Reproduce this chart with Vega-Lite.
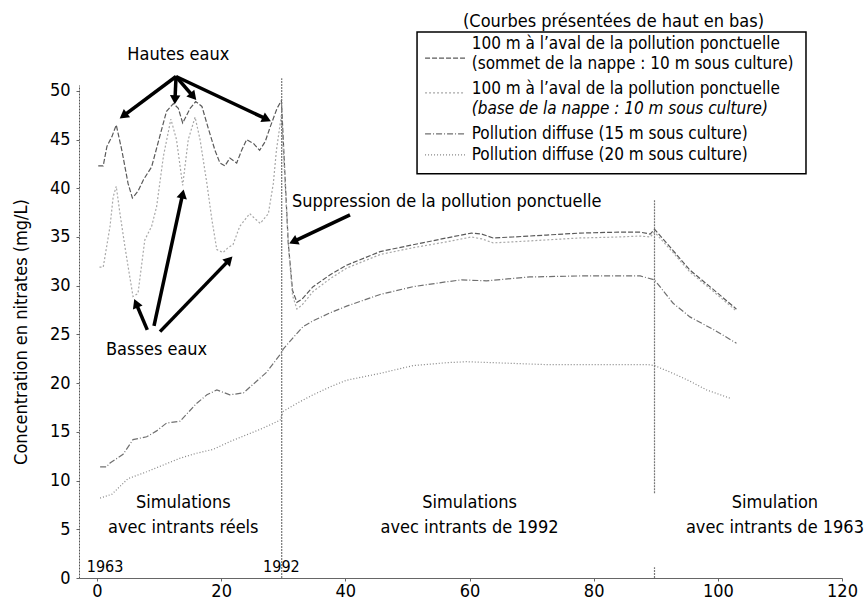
{
  "$schema": "https://vega.github.io/schema/vega-lite/v6.json",
  "width": 763,
  "height": 493,
  "autosize": {"type": "none"},
  "padding": {"left": 79, "top": 85, "right": 23, "bottom": 29},
  "background": "white",
  "config": {
    "view": {"stroke": null},
    "font": "DejaVu Sans Condensed",
    "text": {"font": "DejaVu Sans Condensed", "fontSize": 18, "color": "black"}
  },
  "datasets": {
    "series": [
      {"t":0.2,"c":42.3,"s":"sommet"},{"t":1.0,"c":42.3,"s":"sommet"},{"t":1.6,"c":44.3,"s":"sommet"},{"t":2.4,"c":45.3,"s":"sommet"},{"t":3.1,"c":46.5,"s":"sommet"},{"t":4.0,"c":43.9,"s":"sommet"},{"t":5.0,"c":40.5,"s":"sommet"},{"t":5.7,"c":39.0,"s":"sommet"},{"t":6.6,"c":39.7,"s":"sommet"},{"t":7.5,"c":40.9,"s":"sommet"},{"t":8.8,"c":42.2,"s":"sommet"},{"t":10.1,"c":45.3,"s":"sommet"},{"t":11.2,"c":47.9,"s":"sommet"},{"t":12.3,"c":48.7,"s":"sommet"},{"t":13.1,"c":48.2,"s":"sommet"},{"t":13.8,"c":46.7,"s":"sommet"},{"t":15.0,"c":48.2,"s":"sommet"},{"t":15.9,"c":48.9,"s":"sommet"},{"t":16.9,"c":48.4,"s":"sommet"},{"t":17.9,"c":46.2,"s":"sommet"},{"t":19.0,"c":43.9,"s":"sommet"},{"t":19.8,"c":42.6,"s":"sommet"},{"t":20.6,"c":42.3,"s":"sommet"},{"t":21.4,"c":43.1,"s":"sommet"},{"t":22.5,"c":42.6,"s":"sommet"},{"t":23.3,"c":43.9,"s":"sommet"},{"t":24.1,"c":45.0,"s":"sommet"},{"t":25.2,"c":44.6,"s":"sommet"},{"t":26.2,"c":43.9,"s":"sommet"},{"t":27.1,"c":44.8,"s":"sommet"},{"t":27.9,"c":46.3,"s":"sommet"},{"t":29.0,"c":48.2,"s":"sommet"},{"t":29.7,"c":49.0,"s":"sommet"},{"t":30.8,"c":34.4,"s":"sommet"},{"t":31.5,"c":29.5,"s":"sommet"},{"t":32.2,"c":28.3,"s":"sommet"},{"t":33.0,"c":28.6,"s":"sommet"},{"t":34.8,"c":29.9,"s":"sommet"},{"t":37.5,"c":31.1,"s":"sommet"},{"t":40.2,"c":32.1,"s":"sommet"},{"t":45.6,"c":33.5,"s":"sommet"},{"t":50.9,"c":34.2,"s":"sommet"},{"t":56.3,"c":34.9,"s":"sommet"},{"t":60.3,"c":35.4,"s":"sommet"},{"t":62.0,"c":35.3,"s":"sommet"},{"t":63.8,"c":34.9,"s":"sommet"},{"t":67.0,"c":35.0,"s":"sommet"},{"t":72.4,"c":35.2,"s":"sommet"},{"t":77.8,"c":35.4,"s":"sommet"},{"t":84.0,"c":35.5,"s":"sommet"},{"t":87.5,"c":35.5,"s":"sommet"},{"t":89.1,"c":35.3,"s":"sommet"},{"t":89.8,"c":35.8,"s":"sommet"},{"t":92.8,"c":33.6,"s":"sommet"},{"t":95.5,"c":31.6,"s":"sommet"},{"t":99.3,"c":29.6,"s":"sommet"},{"t":103.0,"c":27.6,"s":"sommet"},
      {"t":0.4,"c":31.9,"s":"base"},{"t":1.0,"c":31.9,"s":"base"},{"t":2.1,"c":36.1,"s":"base"},{"t":2.6,"c":39.1,"s":"base"},{"t":3.1,"c":40.2,"s":"base"},{"t":3.7,"c":37.4,"s":"base"},{"t":4.5,"c":34.0,"s":"base"},{"t":5.0,"c":32.0,"s":"base"},{"t":5.8,"c":28.9,"s":"base"},{"t":6.6,"c":29.2,"s":"base"},{"t":7.7,"c":34.7,"s":"base"},{"t":8.8,"c":36.1,"s":"base"},{"t":9.6,"c":38.1,"s":"base"},{"t":10.7,"c":43.3,"s":"base"},{"t":11.9,"c":47.1,"s":"base"},{"t":12.8,"c":45.0,"s":"base"},{"t":13.8,"c":40.3,"s":"base"},{"t":14.7,"c":45.0,"s":"base"},{"t":15.8,"c":47.3,"s":"base"},{"t":16.6,"c":45.0,"s":"base"},{"t":17.7,"c":40.5,"s":"base"},{"t":18.5,"c":36.8,"s":"base"},{"t":19.3,"c":33.7,"s":"base"},{"t":20.3,"c":33.4,"s":"base"},{"t":21.1,"c":33.9,"s":"base"},{"t":21.9,"c":34.2,"s":"base"},{"t":23.0,"c":36.1,"s":"base"},{"t":24.6,"c":37.4,"s":"base"},{"t":25.4,"c":36.9,"s":"base"},{"t":26.3,"c":36.4,"s":"base"},{"t":27.6,"c":37.4,"s":"base"},{"t":28.4,"c":40.5,"s":"base"},{"t":28.9,"c":43.9,"s":"base"},{"t":29.7,"c":47.5,"s":"base"},{"t":30.9,"c":33.5,"s":"base"},{"t":31.5,"c":29.0,"s":"base"},{"t":32.2,"c":27.6,"s":"base"},{"t":33.0,"c":28.0,"s":"base"},{"t":34.8,"c":29.4,"s":"base"},{"t":37.5,"c":30.7,"s":"base"},{"t":40.2,"c":31.8,"s":"base"},{"t":45.6,"c":33.2,"s":"base"},{"t":50.9,"c":33.9,"s":"base"},{"t":56.3,"c":34.5,"s":"base"},{"t":60.3,"c":35.0,"s":"base"},{"t":62.0,"c":34.8,"s":"base"},{"t":63.8,"c":34.4,"s":"base"},{"t":67.0,"c":34.5,"s":"base"},{"t":72.4,"c":34.7,"s":"base"},{"t":77.8,"c":34.9,"s":"base"},{"t":84.0,"c":35.0,"s":"base"},{"t":87.5,"c":35.1,"s":"base"},{"t":89.1,"c":35.0,"s":"base"},{"t":89.8,"c":35.5,"s":"base"},{"t":92.8,"c":33.4,"s":"base"},{"t":95.5,"c":31.4,"s":"base"},{"t":99.3,"c":29.4,"s":"base"},{"t":103.0,"c":27.4,"s":"base"},
      {"t":0.5,"c":11.4,"s":"diffuse15"},{"t":1.5,"c":11.4,"s":"diffuse15"},{"t":2.1,"c":11.8,"s":"diffuse15"},{"t":4.2,"c":12.7,"s":"diffuse15"},{"t":5.8,"c":14.2,"s":"diffuse15"},{"t":8.0,"c":14.5,"s":"diffuse15"},{"t":9.6,"c":15.1,"s":"diffuse15"},{"t":11.2,"c":15.9,"s":"diffuse15"},{"t":13.4,"c":16.1,"s":"diffuse15"},{"t":16.0,"c":17.9,"s":"diffuse15"},{"t":17.7,"c":18.8,"s":"diffuse15"},{"t":19.3,"c":19.3,"s":"diffuse15"},{"t":21.4,"c":18.8,"s":"diffuse15"},{"t":23.6,"c":19.0,"s":"diffuse15"},{"t":25.7,"c":20.2,"s":"diffuse15"},{"t":27.3,"c":21.1,"s":"diffuse15"},{"t":29.7,"c":23.1,"s":"diffuse15"},{"t":30.0,"c":23.5,"s":"diffuse15"},{"t":31.5,"c":24.6,"s":"diffuse15"},{"t":33.2,"c":25.8,"s":"diffuse15"},{"t":34.8,"c":26.4,"s":"diffuse15"},{"t":37.5,"c":27.2,"s":"diffuse15"},{"t":40.2,"c":27.9,"s":"diffuse15"},{"t":45.6,"c":29.1,"s":"diffuse15"},{"t":50.9,"c":29.9,"s":"diffuse15"},{"t":56.3,"c":30.4,"s":"diffuse15"},{"t":58.7,"c":30.6,"s":"diffuse15"},{"t":62.7,"c":30.5,"s":"diffuse15"},{"t":69.7,"c":30.9,"s":"diffuse15"},{"t":77.8,"c":31.0,"s":"diffuse15"},{"t":87.5,"c":31.0,"s":"diffuse15"},{"t":89.8,"c":30.6,"s":"diffuse15"},{"t":92.8,"c":28.2,"s":"diffuse15"},{"t":95.5,"c":26.8,"s":"diffuse15"},{"t":99.3,"c":25.5,"s":"diffuse15"},{"t":103.0,"c":24.1,"s":"diffuse15"},
      {"t":0.5,"c":8.2,"s":"diffuse20"},{"t":2.4,"c":8.6,"s":"diffuse20"},{"t":5.0,"c":10.2,"s":"diffuse20"},{"t":8.0,"c":10.9,"s":"diffuse20"},{"t":10.7,"c":11.6,"s":"diffuse20"},{"t":13.4,"c":12.3,"s":"diffuse20"},{"t":16.0,"c":12.8,"s":"diffuse20"},{"t":18.7,"c":13.2,"s":"diffuse20"},{"t":21.4,"c":14.0,"s":"diffuse20"},{"t":24.1,"c":14.7,"s":"diffuse20"},{"t":26.8,"c":15.4,"s":"diffuse20"},{"t":29.5,"c":16.2,"s":"diffuse20"},{"t":30.0,"c":17.1,"s":"diffuse20"},{"t":32.7,"c":18.1,"s":"diffuse20"},{"t":34.8,"c":18.8,"s":"diffuse20"},{"t":37.5,"c":19.6,"s":"diffuse20"},{"t":40.2,"c":20.3,"s":"diffuse20"},{"t":45.6,"c":21.0,"s":"diffuse20"},{"t":50.9,"c":21.8,"s":"diffuse20"},{"t":56.3,"c":22.1,"s":"diffuse20"},{"t":59.5,"c":22.2,"s":"diffuse20"},{"t":63.8,"c":22.1,"s":"diffuse20"},{"t":72.4,"c":21.9,"s":"diffuse20"},{"t":83.1,"c":21.9,"s":"diffuse20"},{"t":88.8,"c":21.9,"s":"diffuse20"},{"t":89.8,"c":21.8,"s":"diffuse20"},{"t":92.8,"c":21.0,"s":"diffuse20"},{"t":95.5,"c":20.2,"s":"diffuse20"},{"t":98.2,"c":19.3,"s":"diffuse20"},{"t":102.2,"c":18.4,"s":"diffuse20"}
    ],
    "vlines": [
      {"t":29.75,"lo":0,"hi":51.3},
      {"t":89.8,"lo":8.7,"hi":38.8},
      {"t":89.8,"lo":0,"hi":1.1}
    ],
    "arrows": [
      {"x":12.73,"y":51.47,"x2":4.24,"y2":47.43},
      {"x":12.73,"y":51.47,"x2":12.56,"y2":49.08},
      {"x":12.73,"y":51.47,"x2":15.51,"y2":49.42},
      {"x":12.73,"y":51.47,"x2":27.34,"y2":47.09},
      {"x":8.10,"y":25.46,"x2":6.28,"y2":28.20},
      {"x":9.18,"y":25.87,"x2":13.80,"y2":39.43},
      {"x":10.15,"y":25.29,"x2":21.31,"y2":32.65},
      {"x":40.75,"y":37.27,"x2":31.62,"y2":34.53}
    ],
    "notes": [
      {"x":13.1,"y":53.7,"label":"Hautes eaux"},
      {"x":9.6,"y":23.4,"label":"Basses eaux"},
      {"x":83.2,"y":57.1,"label":"(Courbes présentées de haut en bas)"},
      {"x":13.9,"y":7.67,"label":"Simulations\navec intrants réels"},
      {"x":60.0,"y":7.67,"label":"Simulations\navec intrants de 1992"},
      {"x":109.2,"y":7.67,"label":"Simulation\navec intrants de 1963"}
    ],
    "leftnotes": [
      {"x":31.4,"y":38.6,"label":"Suppression de la pollution ponctuelle"}
    ],
    "years": [
      {"x":1.3,"y":1.17,"label":"1963"},
      {"x":29.7,"y":1.17,"label":"1992"}
    ],
    "legendbox": [
      {"x":51.55,"x2":114.2,"y":56.03,"y2":41.48}
    ],
    "legendlines": [
      {"s":"sommet","x":52.84,"x2":59.28,"y":53.35},
      {"s":"base","x":52.84,"x2":59.28,"y":49.79},
      {"s":"diffuse15","x":52.84,"x2":59.28,"y":45.59},
      {"s":"diffuse20","x":52.84,"x2":59.28,"y":43.43}
    ],
    "legendtext": [
      {"x":60.36,"y":54.83,"label":"100 m à l’aval de la pollution ponctuelle"},
      {"x":60.36,"y":52.72,"label":"(sommet de la nappe : 10 m sous culture)"},
      {"x":60.36,"y":50.21,"label":"100 m à l’aval de la pollution ponctuelle"},
      {"x":60.36,"y":45.59,"label":"Pollution diffuse (15 m sous culture)"},
      {"x":60.36,"y":43.43,"label":"Pollution diffuse (20 m sous culture)"}
    ],
    "legenditalic": [
      {"x":60.36,"y":48.10,"label":"(base de la nappe : 10 m sous culture)"}
    ]
  },
  "layer": [
    {
      "data": {"name": "series"},
      "mark": {"type": "line", "strokeWidth": 1.2},
      "encoding": {
        "x": {"field": "t", "type": "quantitative", "scale": {"domain": [-2.9, 120], "nice": false, "zero": false},
          "axis": {"title": null, "values": [0,20,40,60,80,100,120], "grid": false, "labelFontSize": 18, "labelColor": "black", "labelFont": "DejaVu Sans Condensed", "tickSize": 3, "tickColor": "#666", "domainColor": "#666", "labelPadding": 1, "labelFlush": false}},
        "y": {"field": "c", "type": "quantitative", "scale": {"domain": [0, 50.6], "nice": false},
          "axis": {"title": "Concentration en nitrates (mg/L)", "values": [0,5,10,15,20,25,30,35,40,45,50], "grid": false, "labelFontSize": 18, "labelColor": "black", "labelFont": "DejaVu Sans Condensed", "tickSize": 3, "tickColor": "#666", "domainColor": "#555", "domainDash": [2,1], "labelPadding": 6, "titleFontSize": 18, "titleFontWeight": "normal", "titleColor": "black", "titleFont": "DejaVu Sans Condensed", "titlePadding": 19}},
        "color": {"field": "s", "type": "nominal", "legend": null,
          "scale": {"domain": ["sommet", "base", "diffuse15", "diffuse20"], "range": ["#5a5a5a", "#a8a8a8", "#707070", "#858585"]}},
        "strokeDash": {"field": "s", "type": "nominal", "legend": null,
          "scale": {"domain": ["sommet", "base", "diffuse15", "diffuse20"], "range": [[5,2], [2,2], [6,2,1,2], [1,2]]}}
      }
    },
    {
      "data": {"name": "vlines"},
      "mark": {"type": "rule", "color": "#777", "strokeWidth": 1.2, "strokeDash": [2,1]},
      "encoding": {
        "x": {"field": "t", "type": "quantitative", "scale": {"domain": [-2.9, 120], "nice": false, "zero": false}},
        "y": {"field": "lo", "type": "quantitative", "scale": {"domain": [0, 50.6], "nice": false}},
        "y2": {"field": "hi"}
      }
    },
    {
      "data": {"name": "arrows"},
      "mark": {"type": "rule", "color": "black", "strokeWidth": 3.5},
      "encoding": {
        "x": {"field": "x", "type": "quantitative"},
        "y": {"field": "y", "type": "quantitative"},
        "x2": {"field": "x2"},
        "y2": {"field": "y2"}
      }
    },
    {
      "data": {"name": "arrows"},
      "mark": {"type": "point", "shape": "triangle-up", "filled": true, "color": "black", "opacity": 1, "size": 110,
        "angle": {"expr": "atan2(scale('x', datum.x2) - scale('x', datum.x), scale('y', datum.y) - scale('y', datum.y2)) * 180 / PI"}},
      "encoding": {
        "x": {"field": "x2", "type": "quantitative"},
        "y": {"field": "y2", "type": "quantitative"}
      }
    },
    {
      "data": {"name": "notes"},
      "mark": {"type": "text", "align": "center", "baseline": "middle", "fontSize": 18, "lineBreak": "\n", "lineHeight": 25},
      "encoding": {
        "x": {"field": "x", "type": "quantitative"},
        "y": {"field": "y", "type": "quantitative"},
        "text": {"field": "label"}
      }
    },
    {
      "data": {"name": "leftnotes"},
      "mark": {"type": "text", "align": "left", "baseline": "middle", "fontSize": 18},
      "encoding": {
        "x": {"field": "x", "type": "quantitative"},
        "y": {"field": "y", "type": "quantitative"},
        "text": {"field": "label"}
      }
    },
    {
      "data": {"name": "years"},
      "mark": {"type": "text", "align": "center", "baseline": "middle", "fontSize": 16},
      "encoding": {
        "x": {"field": "x", "type": "quantitative"},
        "y": {"field": "y", "type": "quantitative"},
        "text": {"field": "label"}
      }
    },
    {
      "data": {"name": "legendbox"},
      "mark": {"type": "rect", "filled": false, "stroke": "black", "strokeWidth": 1.5},
      "encoding": {
        "x": {"field": "x", "type": "quantitative"},
        "x2": {"field": "x2"},
        "y": {"field": "y", "type": "quantitative"},
        "y2": {"field": "y2"}
      }
    },
    {
      "data": {"name": "legendlines"},
      "mark": {"type": "rule", "strokeWidth": 1.2},
      "encoding": {
        "x": {"field": "x", "type": "quantitative"},
        "x2": {"field": "x2"},
        "y": {"field": "y", "type": "quantitative"},
        "color": {"field": "s", "type": "nominal", "legend": null},
        "strokeDash": {"field": "s", "type": "nominal", "legend": null}
      }
    },
    {
      "data": {"name": "legendtext"},
      "mark": {"type": "text", "align": "left", "baseline": "middle", "fontSize": 17},
      "encoding": {
        "x": {"field": "x", "type": "quantitative"},
        "y": {"field": "y", "type": "quantitative"},
        "text": {"field": "label"}
      }
    },
    {
      "data": {"name": "legenditalic"},
      "mark": {"type": "text", "align": "left", "baseline": "middle", "fontSize": 17, "fontStyle": "italic"},
      "encoding": {
        "x": {"field": "x", "type": "quantitative"},
        "y": {"field": "y", "type": "quantitative"},
        "text": {"field": "label"}
      }
    }
  ]
}
